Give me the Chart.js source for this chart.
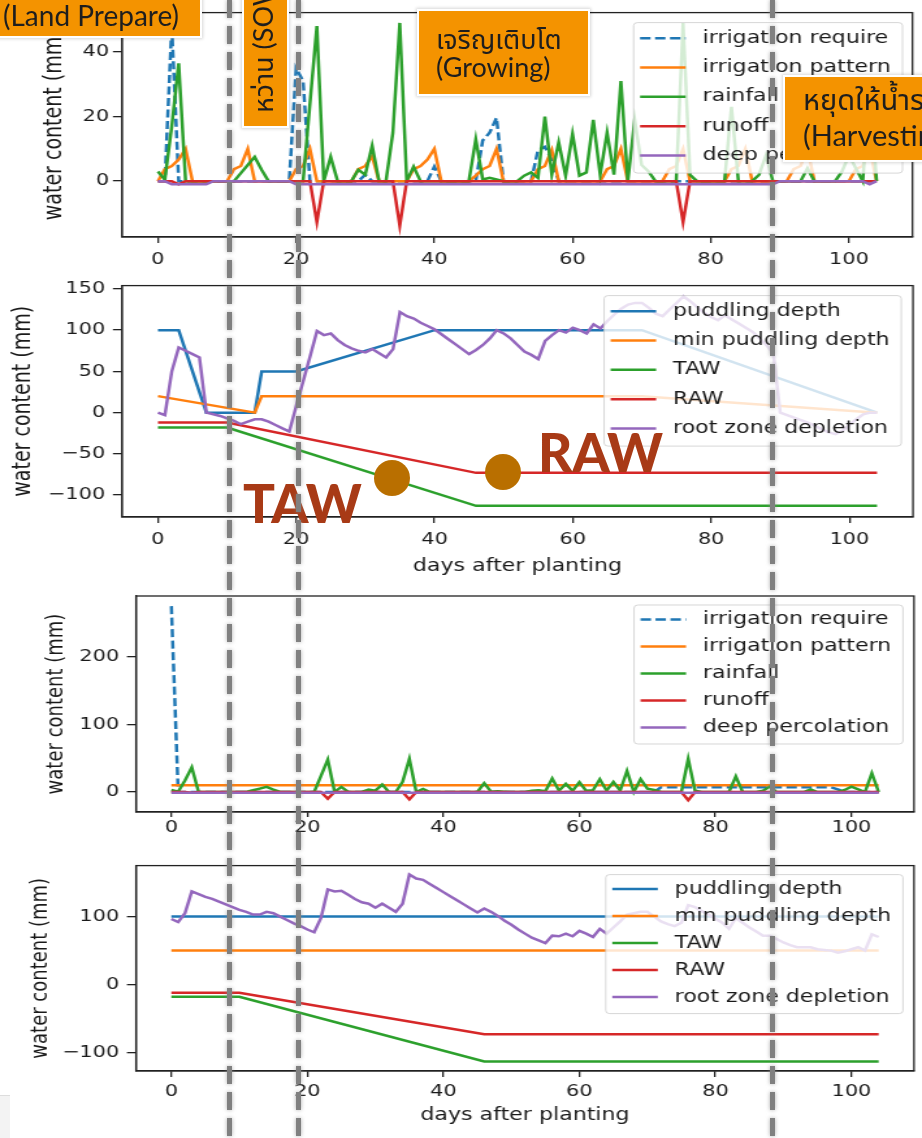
<!DOCTYPE html>
<html>
<head>
<meta charset="utf-8">
<script src="https://cdn.jsdelivr.net/npm/chart.js@4.4.1/dist/chart.umd.min.js"></script>
<style>
  html, body { margin: 0; padding: 0; background: #fff; }
  body { width: 922px; height: 1138px; position: relative; overflow: hidden; }
  .panel { position: absolute; left: 0; transform-origin: 0 0; transform: scaleX(1.3004); }
  .panel canvas { display: block; }
  .tag { position: absolute; background: #f49300; border: 2px solid #fff; box-sizing: border-box;
         box-shadow: 0 0 3px 1px rgba(0,0,0,0.16); }
  .txt { position: absolute; white-space: nowrap; color: #1e1e1e; line-height: 1;
         font-family: Lato, "Noto Sans", "Noto Sans Thai", sans-serif; }
  .vline { position: absolute; top: 0; width: 5px; height: 1138px;
           background: repeating-linear-gradient(to bottom, #808080 0 18px, rgba(128,128,128,0) 18px 26px);
           filter: blur(0.7px) drop-shadow(0 0 2px rgba(140,140,140,0.7)); }
  .dot { position: absolute; width: 36px; height: 36px; border-radius: 50%; background: #b96f00; }
  .big { position: absolute; line-height: 1; color: #a83a16; font: 900 53px Lato, "Noto Sans", sans-serif; }
</style>
</head>
<body>
<div class="panel" style="top:0px"><canvas id="c1" width="709" height="270"></canvas></div>
<div class="panel" style="top:270px"><canvas id="c2" width="709" height="310"></canvas></div>
<div class="panel" style="top:580px"><canvas id="c3" width="709" height="270"></canvas></div>
<div class="panel" style="top:850px"><canvas id="c4" width="709" height="288"></canvas></div>

<div class="tag" style="left:-10px; top:-44px; width:212px; height:82px"></div>
<div class="txt" style="left:3px; top:1px; font-size:28px">(Land Prepare)</div>

<div class="tag" style="left:242px; top:-10px; width:47px; height:138px"></div>
<div class="txt" style="left:249px; top:113px; font-size:27px; transform-origin:0 0; transform:rotate(-90deg)">หว่าน (SOW)</div>

<div class="tag" style="left:417px; top:9px; width:173px; height:87px"></div>
<div class="txt" style="left:436px; top:25px; font-size:27px">เจริญเติบโต</div>
<div class="txt" style="left:436px; top:53px; font-size:27px">(Growing)</div>

<div class="tag" style="left:783px; top:75px; width:170px; height:87px"></div>
<div class="txt" style="left:803px; top:84px; font-size:29px">หยุดให้น้ำรอเก็บเกี่ยว</div>
<div class="txt" style="left:803px; top:120px; font-size:29px">(Harvesting)</div>

<div class="dot" style="left:374px; top:460px"></div>
<div class="dot" style="left:485px; top:454px"></div>
<div class="big" style="left:243px; top:471px">TAW</div>
<div class="big" style="left:538px; top:420px">RAW</div>

<div class="vline" style="left:226.5px"></div>
<div class="vline" style="left:295.5px"></div>
<div class="vline" style="left:769.5px"></div>

<div style="position:absolute; left:0; top:1095px; width:10px; height:43px; background:#f3f3f3; border-top:1px solid #ddd"></div>

<script>
// days after planting (0..104)
const days = [
  0, 1, 2, 3, 4, 5, 6, 7, 8, 9, 10, 11, 12, 13, 14, 15, 16, 17, 18, 19,
  20, 21, 22, 23, 24, 25, 26, 27, 28, 29, 30, 31, 32, 33, 34, 35, 36, 37, 38, 39,
  40, 41, 42, 43, 44, 45, 46, 47, 48, 49, 50, 51, 52, 53, 54, 55, 56, 57, 58, 59,
  60, 61, 62, 63, 64, 65, 66, 67, 68, 69, 70, 71, 72, 73, 74, 75, 76, 77, 78, 79,
  80, 81, 82, 83, 84, 85, 86, 87, 88, 89, 90, 91, 92, 93, 94, 95, 96, 97, 98, 99,
  100, 101, 102, 103, 104
];
const xTicks = [0, 20, 40, 60, 80, 100];

// rainfall (same in both scenarios)
const rainfall = [
  3, 0.5, 17, 36.5, 0, 0, 0, 0, 0, 0,
  0, 0, 2.5, 5, 7.5, 3.5, 0, 0, 0, 0,
  0, 0, 24, 48, 0, 7.5, 0, 0, 0, 3.5,
  2, 11, 0, 0, 15, 49, 0, 4.5, 0, 0,
  0, 0, 0, 0, 0, 0, 13, 0.5, 1, 0.5,
  0, 0, 0, 1.7, 2.7, 1, 20, 2, 12, 1.7,
  14.6, 1.7, 2.7, 19, 2, 15, 2, 31, 0, 19,
  5, 3, 0, 0, 0, 0, 49, 2, 0, 0,
  0, 0, 0, 23, 0, 0, 0, 2, 8, 0,
  0, 0, 0, 0, 4, 0, 0, 0, 0, 3,
  8, 4, 0, 28, 0
];

// scenario A: water balance
const irrPatternA = [
  0, 3.7, 4.7, 6.7, 10, 0, 0, 0, 0, 0,
  0, 3.7, 4.7, 10, 0, 0, 0, 0, 0, 0,
  3.7, 4.7, 10, 0, 0, 0, 0, 0, 0, 3.7,
  4.7, 7.7, 0, 0, 0, 0, 0, 3.7, 4.7, 6.7,
  10, 0, 0, 0, 0, 0, 1.7, 3.7, 4.7, 10,
  0, 0, 0, 0, 0, 3.7, 4.7, 9.7, 0, 0,
  0, 0, 0, 0, 0, 3.7, 4.7, 10, 0, 0,
  0, 0, 0, 0, 3.7, 4.7, 10, 0, 0, 0,
  0, 0, 0, 3.7, 4.7, 10, 0, 0, 0, 0,
  0, 0, 3.7, 4.7, 10, 0, 0, 0, 0, 0,
  0, 3.7, 4.7, 10, 0
];
const irrReqDaysA = [0, 1, 2, 3, 19, 20, 21, 22, 29, 30, 31, 39, 40, 41, 46, 47, 48, 49, 50, 54, 55, 56, 57, 58, 104];
const irrReqA = [0, 0, 48, 0, 0, 35, 31, 0, 0, 2, 0, 0, 4.5, 0, 0, 12.6, 15, 19.6, 0, 0, 9.6, 10.6, 6.7, 0, 0];
const runoffDaysA = [0, 2, 3, 4, 22, 23, 24, 34, 35, 36, 75, 76, 77, 104];
const runoffA = [0, 0, -1, 0, 0, -12.7, 0, 0, -13.8, 0, 0, -12.7, 0, 0];
const deepDaysA = [0, 1, 2, 7, 8, 19, 20, 89, 90, 102, 103, 104];
const deepA = [0, 0, -1, -1, 0, 0, -1, -1, 0, 0, -1, 0];

// scenario A: root zone
const puddDaysA = [0, 3, 7, 14, 15, 20, 40, 70, 104];
const puddA = [100, 100, 0, 0, 50, 50, 100, 100, 0];
const minPuddDaysA = [0, 14, 15, 70, 104];
const minPuddA = [20, 0, 20, 20, 0];
const awDaysA = [0, 10, 46, 104];
const tawA = [-18, -18, -113, -113];
const rawA = [-12, -12, -73, -73];
const rootA = [
  0, -3, 50, 79, 75, 71, 67, 0, -2, -4,
  -7, -10, -14, -11, -8, -8, -11, -15, -19, -23,
  8, 38, 68, 99, 94, 96, 88, 82, 78, 75,
  73, 77, 72, 67, 77, 122, 117, 114, 109, 105,
  101, 95, 89, 83, 77, 71, 76, 82, 90, 100,
  96, 90, 82, 74, 70, 65, 87, 94, 100, 97,
  103, 100, 96, 107, 102, 111, 119, 126, 131, 133,
  133, 127, 120, 117, 125, 133, 141, 135, 128, 121,
  116, 112, 118, 113, 108, 103, 98, 90, 82, 72,
  0, -3, -6, -9, -12, -16, -20, -24, -26, -22,
  -15, -8, -2, 0, 0
];

// scenario B: water balance
const irrReqDaysB = [0, 1, 71, 72, 97, 98, 99, 104];
const irrReqB = [275, 0, 0, 7, 7, 4, 0, 0];
const patDaysB = [0, 104];
const irrPatternB = [10, 10];
const runoffDaysB = [0, 2, 3, 4, 22, 23, 24, 34, 35, 36, 75, 76, 77, 104];
const runoffB = [0, 0, -1, 0, 0, -10, 0, 0, -11, 0, 0, -12, 0, 0];
const deepDaysB = [0, 104];
const deepB = [-1, -1];

// scenario B: root zone
const puddDaysB = [0, 104];
const puddB = [100, 100];
const minPuddB = [50, 50];
const awDaysB = [0, 10, 46, 104];
const tawB = [-18, -18, -113, -113];
const rawB = [-12, -12, -73, -73];
const rootB = [
  96.5, 92, 105, 137, 133, 129, 126, 122, 118, 114,
  110, 107, 103, 103, 107, 105, 100, 95, 90, 86,
  81, 77, 98, 140, 137, 138, 132, 126, 121, 119,
  113, 119, 113, 107, 119, 162, 156, 154, 148, 142,
  136, 130, 124, 118, 112, 106, 112, 107, 101, 94,
  88, 81, 75, 69, 65, 61, 72, 71, 75, 71,
  79, 75, 70, 82, 75, 84, 93, 103, 105, 107,
  107, 100, 93, 89, 86, 91, 117, 114, 108, 103,
  97, 91, 82, 98, 91, 84, 78, 72, 72, 67,
  62, 58, 55, 55, 55, 52, 51, 50, 47, 49,
  52, 55, 50, 74, 70
];

const C = { blue: "#1f77b4", orange: "#ff7f0e", green: "#2ca02c", red: "#d62728", purple: "#9467bd" };
const INK = "#1a1a1a";
const FAMILY = "'DejaVu Sans', sans-serif";

function pts(xs, ys) {
  return ys.map(function (y, i) { return { x: xs[i], y: y }; });
}
function fmt(v) {
  return v < 0 ? "\u2212" + Math.abs(v) : String(v);
}

// matplotlib-like frame and legend inside the axes
const mplBox = {
  id: "mplBox",
  afterDraw(chart, args, opts) {
    const ctx = chart.ctx;
    const a = chart.chartArea;
    ctx.save();
    ctx.strokeStyle = "#222";
    ctx.lineWidth = 1.3;
    ctx.strokeRect(a.left, a.top, a.right - a.left, a.bottom - a.top);

    const items = chart.data.datasets;
    ctx.font = "17px " + FAMILY;
    let maxW = 0;
    items.forEach(function (d) { maxW = Math.max(maxW, ctx.measureText(d.label).width); });
    const w = 53 + maxW + 9;
    const h = items.length * opts.rowH + 4;
    const x0 = a.right - opts.rightGap - w;
    const y0 = a.top + opts.topGap;
    ctx.beginPath();
    ctx.roundRect(x0, y0, w, h, 3);
    ctx.fillStyle = "rgba(255,255,255,0.8)";
    ctx.fill();
    ctx.strokeStyle = "rgba(204,204,204,0.8)";
    ctx.lineWidth = 1;
    ctx.stroke();
    items.forEach(function (d, i) {
      const cy = y0 + 1 + opts.rowH * (i + 0.5);
      ctx.beginPath();
      ctx.setLineDash(d.borderDash || []);
      ctx.strokeStyle = d.borderColor;
      ctx.lineWidth = 2.5;
      ctx.moveTo(x0 + 5, cy);
      ctx.lineTo(x0 + 40, cy);
      ctx.stroke();
      ctx.setLineDash([]);
      ctx.fillStyle = INK;
      ctx.textAlign = "left";
      ctx.textBaseline = "middle";
      ctx.fillText(d.label, x0 + 53, cy);
    });
    ctx.restore();
  }
};

function makeChart(id, cfg) {
  return new Chart(document.getElementById(id), {
    type: "line",
    data: {
      datasets: cfg.series.map(function (s, i, arr) {
        return {
          label: s.label, data: s.data, borderColor: s.color, borderDash: s.dash || [],
          borderWidth: 2.5, pointRadius: 0, tension: 0, fill: false, order: arr.length - i
        };
      })
    },
    options: {
      responsive: false,
      animation: false,
      devicePixelRatio: 1,
      layout: { padding: { top: cfg.padTop, right: cfg.padRight, bottom: 0, left: 0 } },
      plugins: {
        legend: { display: false },
        tooltip: { enabled: false },
        mplBox: { rowH: cfg.rowH, topGap: cfg.legTop, rightGap: cfg.legRight }
      },
      scales: {
        x: {
          type: "linear", min: -5.2, max: 109.2,
          afterBuildTicks: function (s) { s.ticks = xTicks.map(function (v) { return { value: v }; }); },
          afterFit: function (s) { s.height = cfg.xAxisH; },
          ticks: { font: { family: FAMILY, size: 16 }, color: INK, padding: cfg.xPad, maxRotation: 0, autoSkip: false, callback: fmt },
          grid: { drawOnChartArea: false, tickLength: cfg.xTick, color: "#222", lineWidth: 1.3 },
          border: { color: "#222", width: 1.3 },
          title: {
            display: !!cfg.xTitle, text: "days after planting", color: INK,
            font: { family: FAMILY, size: 17 }, padding: { top: 0, bottom: cfg.xTitlePad || 0 }
          }
        },
        y: {
          type: "linear", min: cfg.yMin, max: cfg.yMax,
          afterBuildTicks: function (s) { s.ticks = cfg.yTicks.map(function (v) { return { value: v }; }); },
          afterFit: function (s) { s.width = cfg.yAxisW; },
          ticks: { font: { family: FAMILY, size: 16 }, color: INK, padding: cfg.yPad, callback: fmt },
          grid: { drawOnChartArea: false, tickLength: 7, color: "#222", lineWidth: 1.3 },
          border: { color: "#222", width: 1.3 },
          title: {
            display: true, text: "water content (mm)", color: INK,
            font: { family: FAMILY, size: cfg.yTitleSize }, padding: { top: cfg.yTitlePad, bottom: 0 }
          }
        }
      }
    },
    plugins: [mplBox]
  });
}

const S = 922 / 709;

makeChart("c1", {
  series: [
    { label: "irrigation require", data: pts(irrReqDaysA, irrReqA), color: C.blue, dash: [8, 3.5] },
    { label: "irrigation pattern", data: pts(days, irrPatternA), color: C.orange },
    { label: "rainfall", data: pts(days, rainfall), color: C.green },
    { label: "runoff", data: pts(runoffDaysA, runoffA), color: C.red },
    { label: "deep percolation", data: pts(deepDaysA, deepA), color: C.purple }
  ],
  padTop: 4, padRight: 709 - 912.5 / S, yAxisW: 122 / S, xAxisH: 33,
  yMin: -17.3, yMax: 52.2, yTicks: [0, 20, 40], yPad: 3,
  xTick: 6, xPad: 7, yTitleSize: 19, yTitlePad: 31,
  rowH: 29.3, legTop: 10, legRight: 7.7
});

makeChart("c2", {
  series: [
    { label: "puddling depth", data: pts(puddDaysA, puddA), color: C.blue },
    { label: "min puddling depth", data: pts(minPuddDaysA, minPuddA), color: C.orange },
    { label: "TAW", data: pts(awDaysA, tawA), color: C.green },
    { label: "RAW", data: pts(awDaysA, rawA), color: C.red },
    { label: "root zone depletion", data: pts(days, rootA), color: C.purple }
  ],
  padTop: 14, padRight: 709 - 913 / S, yAxisW: 122 / S, xAxisH: 63,
  yMin: -126.5, yMax: 154, yTicks: [-100, -50, 0, 50, 100, 150], yPad: 6,
  xTick: 6, xPad: 7, xTitle: true, xTitlePad: 3, yTitleSize: 19, yTitlePad: 7,
  rowH: 29.3, legTop: 10, legRight: 9
});

makeChart("c3", {
  series: [
    { label: "irrigation require", data: pts(irrReqDaysB, irrReqB), color: C.blue, dash: [8, 3.5] },
    { label: "irrigation pattern", data: pts(patDaysB, irrPatternB), color: C.orange },
    { label: "rainfall", data: pts(days, rainfall), color: C.green },
    { label: "runoff", data: pts(runoffDaysB, runoffB), color: C.red },
    { label: "deep percolation", data: pts(deepDaysB, deepB), color: C.purple }
  ],
  padTop: 16, padRight: 709 - 914 / S, yAxisW: 136 / S, xAxisH: 38,
  yMin: -29.6, yMax: 290, yTicks: [0, 100, 200], yPad: 6,
  xTick: 5, xPad: 1, yTitleSize: 18, yTitlePad: 33,
  rowH: 27, legTop: 9, legRight: 8.5
});

makeChart("c4", {
  series: [
    { label: "puddling depth", data: pts(puddDaysB, puddB), color: C.blue },
    { label: "min puddling depth", data: pts(puddDaysB, minPuddB), color: C.orange },
    { label: "TAW", data: pts(awDaysB, tawB), color: C.green },
    { label: "RAW", data: pts(awDaysB, rawB), color: C.red },
    { label: "root zone depletion", data: pts(days, rootB), color: C.purple }
  ],
  padTop: 5, padRight: 709 - 914 / S, yAxisW: 136 / S, xAxisH: 67,
  yMin: -127, yMax: 175, yTicks: [-100, 0, 100], yPad: 6,
  xTick: 6, xPad: 5, xTitle: true, xTitlePad: 12, yTitleSize: 18, yTitlePad: 21,
  rowH: 27, legTop: 9, legRight: 8.5
});
</script>
</body>
</html>
